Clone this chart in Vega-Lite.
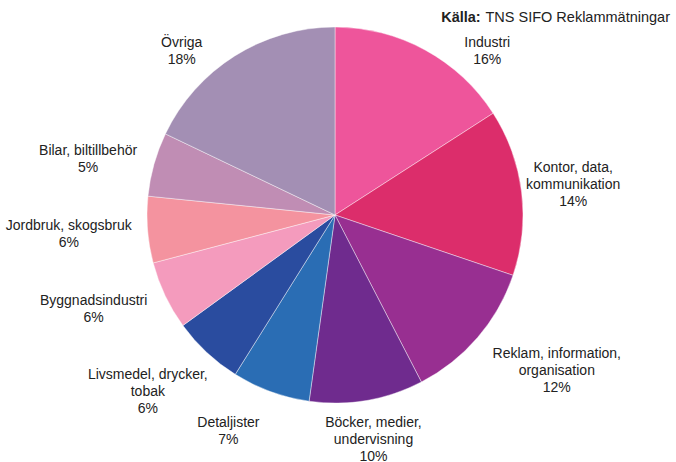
{
  "$schema": "https://vega.github.io/schema/vega-lite/v6.json",
  "width": 670,
  "height": 430,
  "autosize": {"type": "none"},
  "padding": {"left": 0, "top": 0, "right": 6, "bottom": 32},
  "background": "white",
  "title": {
    "text": "Källa:\u00a0\u00a0\u00a0\u00a0\u00a0\u00a0\u00a0\u00a0\u00a0\u00a0\u00a0\u00a0\u00a0\u00a0\u00a0\u00a0\u00a0\u00a0\u00a0\u00a0\u00a0\u00a0\u00a0\u00a0\u00a0\u00a0\u00a0\u00a0\u00a0\u00a0\u00a0\u00a0\u00a0\u00a0\u00a0\u00a0\u00a0\u00a0\u00a0\u00a0\u00a0\u00a0\u00a0\u00a0\u00a0\u00a0\u00a0\u200b",
    "subtitle": "TNS SIFO Reklammätningar",
    "anchor": "end",
    "orient": "top",
    "frame": "group",
    "font": "Liberation Sans",
    "fontSize": 14.5,
    "fontWeight": "bold",
    "color": "#222222",
    "subtitleFont": "Liberation Sans",
    "subtitleFontSize": 14.5,
    "subtitleFontWeight": "normal",
    "subtitleColor": "#222222",
    "subtitlePadding": -14.5,
    "dy": 58
  },
  "data": {
    "values": [
      {"sector": "Industri", "share": 15.9, "label": "Industri\n16%"},
      {"sector": "Kontor, data, kommunikation", "share": 14.3, "label": "Kontor, data,\nkommunikation\n14%"},
      {"sector": "Reklam, information, organisation", "share": 12.2, "label": "Reklam, information,\norganisation\n12%"},
      {"sector": "Böcker, medier, undervisning", "share": 9.8, "label": "Böcker, medier,\nundervisning\n10%"},
      {"sector": "Detaljister", "share": 6.7, "label": "Detaljister\n7%"},
      {"sector": "Livsmedel, drycker, tobak", "share": 6.1, "label": "Livsmedel, drycker,\ntobak\n6%"},
      {"sector": "Byggnadsindustri", "share": 5.9, "label": "Byggnadsindustri\n6%"},
      {"sector": "Jordbruk, skogsbruk", "share": 5.7, "label": "Jordbruk, skogsbruk\n6%"},
      {"sector": "Bilar, biltillbehör", "share": 5.5, "label": "Bilar, biltillbehör\n5%"},
      {"sector": "Övriga", "share": 17.9, "label": "Övriga\n18%"}
    ]
  },
  "transform": [{"window": [{"op": "row_number", "as": "i"}]}],
  "encoding": {
    "theta": {"field": "share", "type": "quantitative", "stack": true},
    "order": {"field": "i", "type": "quantitative"},
    "detail": {"field": "sector", "type": "nominal"}
  },
  "layer": [
    {
      "mark": {"type": "arc", "outerRadius": 188, "stroke": "#ffffff", "strokeWidth": 0.6, "strokeOpacity": 0.7},
      "encoding": {
        "color": {
          "field": "sector",
          "type": "nominal",
          "legend": null,
          "scale": {
            "domain": ["Industri", "Kontor, data, kommunikation", "Reklam, information, organisation", "Böcker, medier, undervisning", "Detaljister", "Livsmedel, drycker, tobak", "Byggnadsindustri", "Jordbruk, skogsbruk", "Bilar, biltillbehör", "Övriga"],
            "range": ["#ee559b", "#dc2d6b", "#982f91", "#6f2b8e", "#2a6db4", "#2a4c9f", "#f49bbd", "#f4939f", "#c08db4", "#a38fb4"]
          }
        }
      }
    },
    {
      "mark": {"type": "text", "radius": 245, "dx": -5, "dy": -17, "font": "Liberation Sans", "fontSize": 14, "lineBreak": "\n", "lineHeight": 17, "color": "#222222", "align": "center", "baseline": "middle"},
      "encoding": {
        "text": {"field": "label"},
        "opacity": {"condition": {"test": "datum.sector === 'Kontor, data, kommunikation'", "value": 1}, "value": 0}
      }
    },
    {
      "mark": {"type": "text", "radius": 245, "dx": 36, "dy": -21, "font": "Liberation Sans", "fontSize": 14, "lineBreak": "\n", "lineHeight": 17, "color": "#222222", "align": "center", "baseline": "middle"},
      "encoding": {
        "text": {"field": "label"},
        "opacity": {"condition": {"test": "datum.sector === 'Reklam, information, organisation'", "value": 1}, "value": 0}
      }
    },
    {
      "mark": {"type": "text", "radius": 228, "dy": -17, "font": "Liberation Sans", "fontSize": 14, "lineBreak": "\n", "lineHeight": 17, "color": "#222222", "align": "center", "baseline": "middle"},
      "encoding": {
        "text": {"field": "label"},
        "opacity": {"condition": {"test": "datum.sector === 'Böcker, medier, undervisning'", "value": 1}, "value": 0}
      }
    },
    {
      "mark": {"type": "text", "radius": 230, "dx": -28, "dy": -8, "font": "Liberation Sans", "fontSize": 14, "lineBreak": "\n", "lineHeight": 17, "color": "#222222", "align": "center", "baseline": "middle"},
      "encoding": {
        "text": {"field": "label"},
        "opacity": {"condition": {"test": "datum.sector === 'Detaljister'", "value": 1}, "value": 0}
      }
    },
    {
      "mark": {"type": "text", "radius": 245, "dx": -20, "dy": -19, "font": "Liberation Sans", "fontSize": 14, "lineBreak": "\n", "lineHeight": 17, "color": "#222222", "align": "center", "baseline": "middle"},
      "encoding": {
        "text": {"field": "label"},
        "opacity": {"condition": {"test": "indexof(['Livsmedel, drycker, tobak', 'Byggnadsindustri'], datum.sector) >= 0", "value": 1}, "value": 0}
      }
    },
    {
      "mark": {"type": "text", "radius": 245, "dx": -22, "dy": -8, "font": "Liberation Sans", "fontSize": 14, "lineBreak": "\n", "lineHeight": 17, "color": "#222222", "align": "center", "baseline": "middle"},
      "encoding": {
        "text": {"field": "label"},
        "opacity": {"condition": {"test": "datum.sector === 'Jordbruk, skogsbruk'", "value": 1}, "value": 0}
      }
    },
    {
      "mark": {"type": "text", "radius": 245, "dx": -11, "dy": 2, "font": "Liberation Sans", "fontSize": 14, "lineBreak": "\n", "lineHeight": 17, "color": "#222222", "align": "center", "baseline": "middle"},
      "encoding": {
        "text": {"field": "label"},
        "opacity": {"condition": {"test": "datum.sector === 'Bilar, biltillbehör'", "value": 1}, "value": 0}
      }
    },
    {
      "mark": {"type": "text", "radius": 205, "dx": 54, "dy": 8, "font": "Liberation Sans", "fontSize": 14, "lineBreak": "\n", "lineHeight": 17, "color": "#222222", "align": "center", "baseline": "middle"},
      "encoding": {
        "text": {"field": "label"},
        "opacity": {"condition": {"test": "datum.sector === 'Industri'", "value": 1}, "value": 0}
      }
    },
    {
      "mark": {"type": "text", "radius": 205, "dx": -44, "dy": 1, "font": "Liberation Sans", "fontSize": 14, "lineBreak": "\n", "lineHeight": 17, "color": "#222222", "align": "center", "baseline": "middle"},
      "encoding": {
        "text": {"field": "label"},
        "opacity": {"condition": {"test": "datum.sector === 'Övriga'", "value": 1}, "value": 0}
      }
    }
  ],
  "config": {"view": {"stroke": null}}
}
